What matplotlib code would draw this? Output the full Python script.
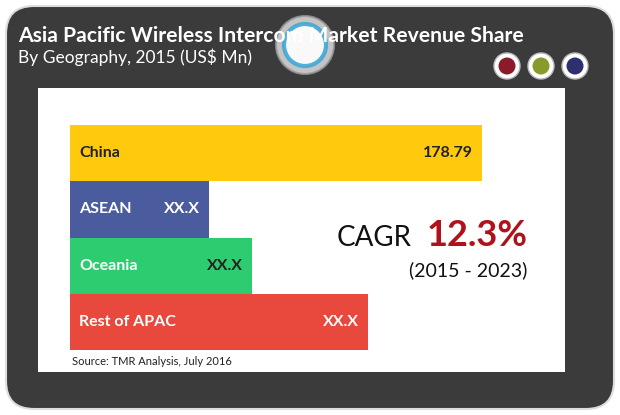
import matplotlib.pyplot as plt
from matplotlib.patches import FancyBboxPatch, Circle, Rectangle

regions = ["China", "ASEAN", "Oceania", "Rest of APAC"]
values = [178.79, 60.3, 79.0, 129.3]
value_labels = ["178.79", "XX.X", "XX.X", "XX.X"]
colors = ["#FFC90E", "#4B5C9E", "#2ECC71", "#E8493C"]
name_colors = ["#222222", "white", "white", "white"]
value_colors = ["#222222", "white", "#222222", "white"]

W, H = 620, 415
fig = plt.figure(figsize=(W / 100, H / 100), dpi=100)
bg = fig.add_axes([0, 0, 1, 1])
bg.set_xlim(0, W); bg.set_ylim(H, 0); bg.axis("off")

bg.add_patch(FancyBboxPatch((6, 6), W - 12, H - 12, boxstyle="round,pad=0,rounding_size=28",
                            fc="#3b3b3b", ec="#dddddd", lw=1.5))
bg.add_patch(Rectangle((38, 88), 527, 284, fc="white", ec="none"))

# center logo (semi-transparent, drawn under the title)
bg.add_patch(Circle((305, 45), 29, fc="#e8e8e8", ec="#999999", lw=1.5, alpha=0.8))
bg.add_patch(Circle((305, 45), 21, fc="white", ec="#3fa7d6", lw=3, alpha=0.9))

bg.text(18, 36, "Asia Pacific Wireless Intercom Market Revenue Share", color="white",
        fontsize=15.2, fontweight="bold", family="Lato", va="center")
bg.text(18, 57, "By Geography, 2015 (US$ Mn)", color="white", fontsize=12.5,
        family="Lato", va="center")

# right circles
for cx, c in zip([507, 541, 575], ["#8b1a2b", "#8a9a2a", "#2e2f6e"]):
    bg.add_patch(Circle((cx, 66), 13, fc="white", ec="#bbbbbb", lw=1))
    bg.add_patch(Circle((cx, 66), 8.5, fc=c, ec="none"))

ax = fig.add_axes([70 / W, 1 - 350 / H, 412 / W, 225 / H])
ax.barh(range(len(regions)), values, height=1.0, color=colors)
ax.set_xlim(0, values[0]); ax.set_ylim(len(regions) - 0.5, -0.5)
ax.axis("off")
for i, (r, v, lab) in enumerate(zip(regions, values, value_labels)):
    ax.text(4, i, r, color=name_colors[i], fontsize=11.5, fontweight="bold",
            family="Lato", va="center")
    ax.text(v - 4, i, lab, color=value_colors[i], fontsize=11.5, fontweight="bold",
            family="Lato", va="center", ha="right")

bg.text(337, 238, "CAGR", fontsize=20, family="Lato", color="#111111", va="center")
bg.text(427, 235, "12.3%", fontsize=26, fontweight="bold", family="Lato", color="#b0121b", va="center")
bg.text(468, 270, "(2015 - 2023)", fontsize=14, family="Lato", color="#111111", va="center", ha="center")
bg.text(72, 361, "Source: TMR Analysis, July 2016", fontsize=8, family="Lato", color="#222222", va="center")

fig.savefig("out.png", dpi=100)
